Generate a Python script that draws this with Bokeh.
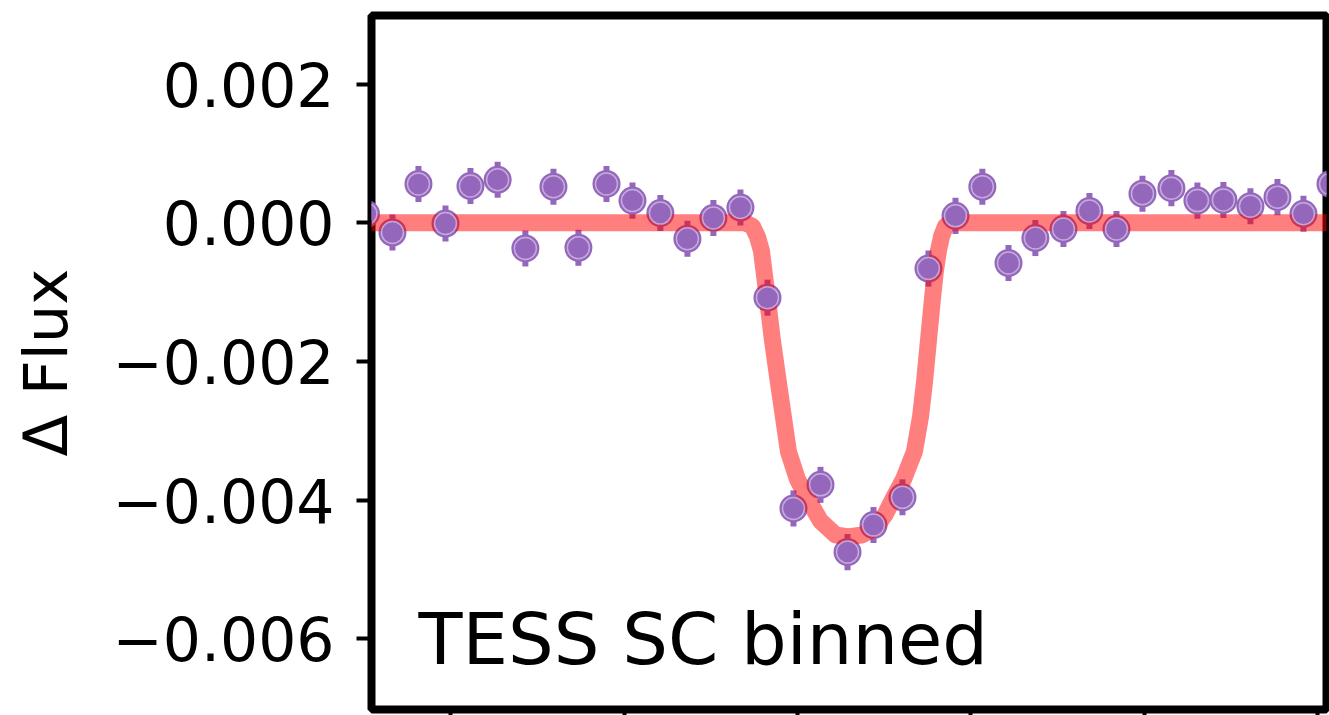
from bokeh.plotting import figure
from bokeh.models import Range1d, FixedTicker, Label, ColumnDataSource
from bokeh.embed import file_html
from bokeh.resources import INLINE

# Binned TESS short-cadence photometry (time in hours from a reference epoch)
time_hr = [-2.490, -2.337, -2.187, -2.031, -1.887, -1.730, -1.570, -1.408, -1.264,
           -1.102, -0.952, -0.791, -0.635, -0.485, -0.329, -0.173, -0.023, 0.133,
           0.289, 0.439, 0.606, 0.756, 0.912, 1.067, 1.218, 1.373, 1.535, 1.685,
           1.841, 1.991, 2.158, 2.308, 2.458, 2.614, 2.770, 2.920, 3.076]
flux = [0.00013, -0.00014, 0.00056, -0.00001, 0.00053, 0.00062, -0.00037, 0.00052,
        -0.00036, 0.00056, 0.00032, 0.00014, -0.00023, 0.00007, 0.00022, -0.00108,
        -0.00412, -0.00378, -0.00475, -0.00436, -0.00396, -0.00066, 0.00010, 0.00052,
        -0.00058, -0.00022, -0.00009, 0.00017, -0.00009, 0.00042, 0.00050, 0.00032,
        0.00033, 0.00024, 0.00037, 0.00013, 0.00056]
flux_err = [0.00026, 0.00026, 0.00026, 0.00026, 0.00026, 0.00026, 0.00026, 0.00026,
            0.00026, 0.00026, 0.00026, 0.00026, 0.00026, 0.00026, 0.00026, 0.00026,
            0.00026, 0.00026, 0.00026, 0.00026, 0.00026, 0.00026, 0.00026, 0.00026,
            0.00026, 0.00026, 0.00026, 0.00026, 0.00026, 0.00026, 0.00026, 0.00026,
            0.00026, 0.00026, 0.00026, 0.00026, 0.00026]

# Transit model curve
model_time_hr = [-2.60, -0.300, -0.260, -0.231, -0.208, -0.173, -0.144, -0.110, -0.081,
                 -0.052, 0.000, 0.063, 0.133, 0.219, 0.294, 0.375, 0.450, 0.508,
                 0.548, 0.612, 0.675, 0.710, 0.733, 0.756, 0.779, 0.796, 0.814,
                 0.831, 0.854, 0.883, 3.20]
model_flux = [0.0, 0.0, -0.00005, -0.0002, -0.0004, -0.0011, -0.0017, -0.0023, -0.0028,
              -0.0033, -0.0037, -0.0040, -0.0043, -0.0045, -0.00453, -0.0045, -0.0044,
              -0.0042, -0.0040, -0.0037, -0.0033, -0.0028, -0.0023, -0.0017, -0.0011,
              -0.0007, -0.0004, -0.0002, -0.00005, 0.0, 0.0]

ytick_values = [0.002, 0.0, -0.002, -0.004, -0.006]
ytick_labels = ["0.002", "0.000", "\u22120.002", "\u22120.004", "\u22120.006"]
xtick_values = [-2, -1, 0, 1, 2, 3]
y_label = "\u0394 Flux"
annotation = "TESS SC binned"

PURPLE = "#9467bd"
FONT = "DejaVu Sans"

p = figure(width=1329, height=715, output_backend="svg", toolbar_location=None,
           x_range=Range1d(-2.458, 3.053), y_range=Range1d(-0.00702, 0.00299),
           min_border_left=371, min_border_right=3, min_border_top=15,
           min_border_bottom=5, background_fill_color="white",
           border_fill_color="white")
p.grid.visible = False
p.outline_line_color = "black"
p.outline_line_width = 8
p.outline_line_alpha = 1.0

ya = p.yaxis[0]
ya.ticker = FixedTicker(ticks=ytick_values)
ya.major_label_overrides = {v: l for v, l in zip(ytick_values, ytick_labels)}
ya.major_label_text_font = FONT
ya.major_label_text_font_size = "60px"
ya.major_label_text_color = "black"
ya.major_label_standoff = 22
ya.major_tick_out = 15
ya.major_tick_in = 0
ya.major_tick_line_width = 4
ya.major_tick_line_color = "black"
ya.minor_tick_line_color = None
ya.axis_line_color = None
ya.axis_label = y_label
ya.axis_label_text_font = FONT
ya.axis_label_text_font_size = "61px"
ya.axis_label_text_font_style = "normal"
ya.axis_label_text_color = "black"
ya.axis_label_standoff = 28

xa = p.xaxis[0]
xa.ticker = FixedTicker(ticks=xtick_values)
xa.major_label_overrides = {v: "" for v in xtick_values}
xa.major_label_text_font_size = "1px"
xa.major_label_standoff = 0
xa.major_tick_out = 6
xa.major_tick_in = 0
xa.major_tick_line_width = 4
xa.major_tick_line_color = "black"
xa.minor_tick_line_color = None
xa.axis_line_color = None

src = ColumnDataSource(dict(
    t=time_hr, f=flux,
    lo=[f - e for f, e in zip(flux, flux_err)],
    hi=[f + e for f, e in zip(flux, flux_err)],
))

# error bars and marker base (under the model)
p.segment(x0="t", y0="lo", x1="t", y1="hi", source=src, line_color=PURPLE, line_width=6)
p.scatter(x="t", y="f", source=src, size=28, marker="circle",
          fill_color=PURPLE, line_color=None)

# model
p.line(x=model_time_hr, y=model_flux, line_color="red", line_alpha=0.5, line_width=17,
       line_join="round", line_cap="butt")

# marker tops
p.scatter(x="t", y="f", source=src, size=22, marker="circle",
          fill_color=PURPLE, line_color="#d8c9e8", line_width=1.5, line_alpha=0.7)

p.add_layout(Label(x=-2.187, y=-0.006, text=annotation, text_font=FONT,
                   text_font_size="72px", text_color="black",
                   text_baseline="alphabetic", text_align="left"))

open("out.html", "w").write(file_html(p, INLINE))
